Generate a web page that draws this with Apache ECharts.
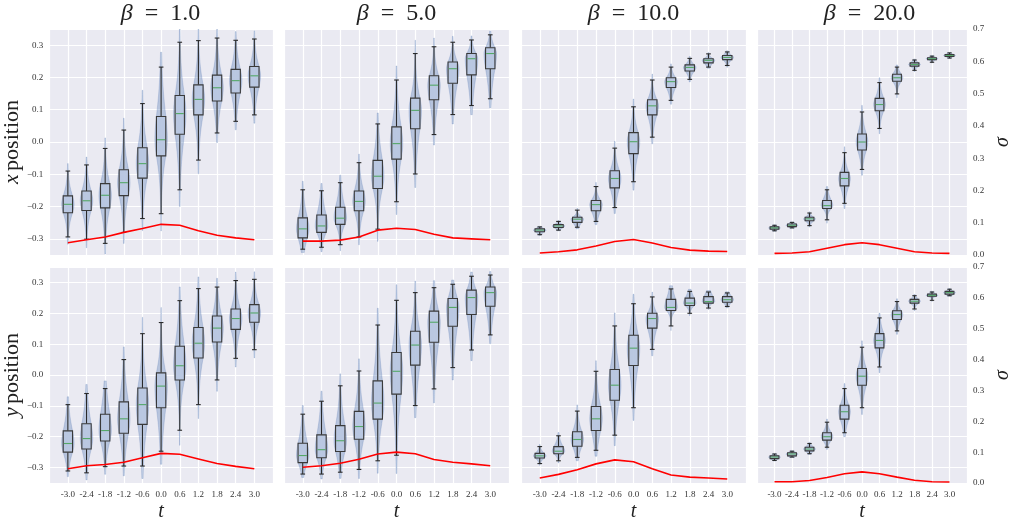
<!DOCTYPE html>
<html><head><meta charset="utf-8">
<script src="https://cdn.jsdelivr.net/npm/echarts@6.0.0/dist/echarts.min.js"></script>
<style>html,body{margin:0;padding:0;background:#fff}#c{width:1014px;height:523px}</style>
</head><body><div id="c"></div>
<script>
// time points (category values)
const tValues = [-3.0, -2.4, -1.8, -1.2, -0.6, 0.0, 0.6, 1.2, 1.8, 2.4, 3.0];
const betaLabels = ['1.0', '5.0', '10.0', '20.0'];
const rowNames = ['x', 'y'];

// box statistics per t: [whisker low, q1, median, q3, whisker high]
const xBeta1 = [[-0.294,-0.219,-0.193,-0.167,-0.090],[-0.301,-0.212,-0.182,-0.152,-0.071],[-0.314,-0.204,-0.165,-0.129,-0.020],[-0.280,-0.166,-0.126,-0.086,0.037],[-0.237,-0.112,-0.067,-0.018,0.119],[-0.222,-0.043,0.007,0.079,0.232],[-0.148,0.024,0.088,0.144,0.309],[-0.056,0.084,0.132,0.177,0.314],[0.028,0.127,0.168,0.207,0.322],[0.064,0.152,0.190,0.225,0.315],[0.084,0.170,0.205,0.234,0.319]];
const xBeta5 = [[-0.332,-0.297,-0.269,-0.235,-0.148],[-0.326,-0.280,-0.260,-0.226,-0.151],[-0.318,-0.255,-0.236,-0.202,-0.126],[-0.294,-0.213,-0.184,-0.152,-0.064],[-0.270,-0.144,-0.106,-0.057,0.056],[-0.185,-0.053,-0.005,0.047,0.192],[-0.099,0.041,0.098,0.136,0.274],[0.023,0.131,0.176,0.205,0.295],[0.085,0.182,0.227,0.248,0.309],[0.113,0.208,0.258,0.274,0.316],[0.134,0.227,0.274,0.292,0.332]];
const xBeta10 = [[-0.287,-0.278,-0.273,-0.269,-0.263],[-0.273,-0.265,-0.260,-0.256,-0.246],[-0.264,-0.249,-0.239,-0.233,-0.211],[-0.246,-0.213,-0.194,-0.181,-0.138],[-0.203,-0.142,-0.113,-0.089,-0.019],[-0.123,-0.036,0.001,0.029,0.109],[0.015,0.084,0.112,0.131,0.192],[0.129,0.169,0.187,0.199,0.232],[0.194,0.220,0.231,0.239,0.259],[0.232,0.245,0.253,0.258,0.273],[0.237,0.255,0.262,0.268,0.279]];
const xBeta20 = [[-0.275,-0.270,-0.266,-0.263,-0.258],[-0.266,-0.262,-0.258,-0.254,-0.249],[-0.259,-0.244,-0.238,-0.233,-0.220],[-0.241,-0.206,-0.197,-0.181,-0.148],[-0.190,-0.136,-0.113,-0.094,-0.033],[-0.085,-0.025,0.000,0.025,0.093],[0.042,0.097,0.116,0.135,0.184],[0.149,0.188,0.199,0.210,0.232],[0.222,0.235,0.240,0.245,0.254],[0.247,0.255,0.258,0.261,0.266],[0.260,0.265,0.268,0.271,0.276]];
const yBeta1 = [[-0.311,-0.250,-0.222,-0.181,-0.096],[-0.317,-0.240,-0.206,-0.158,-0.060],[-0.297,-0.214,-0.180,-0.127,-0.044],[-0.295,-0.189,-0.142,-0.087,0.050],[-0.295,-0.160,-0.096,-0.042,0.134],[-0.247,-0.106,-0.036,0.007,0.170],[-0.179,-0.016,0.030,0.093,0.241],[-0.096,0.055,0.103,0.154,0.280],[-0.016,0.107,0.152,0.191,0.285],[0.054,0.148,0.183,0.214,0.306],[0.082,0.171,0.201,0.228,0.310]];
const yBeta5 = [[-0.321,-0.284,-0.261,-0.221,-0.127],[-0.321,-0.268,-0.242,-0.194,-0.085],[-0.315,-0.248,-0.213,-0.164,-0.035],[-0.306,-0.208,-0.167,-0.118,0.013],[-0.278,-0.143,-0.091,-0.019,0.162],[-0.260,-0.062,0.012,0.073,0.242],[-0.099,0.032,0.097,0.142,0.267],[-0.045,0.106,0.171,0.207,0.283],[0.024,0.158,0.219,0.248,0.294],[0.081,0.196,0.251,0.275,0.320],[0.130,0.223,0.267,0.285,0.324]];
const yBeta10 = [[-0.287,-0.269,-0.262,-0.254,-0.232],[-0.278,-0.255,-0.247,-0.232,-0.197],[-0.267,-0.231,-0.209,-0.184,-0.117],[-0.244,-0.180,-0.142,-0.102,0.012],[-0.195,-0.082,-0.033,0.018,0.159],[-0.106,0.031,0.087,0.129,0.231],[0.083,0.152,0.183,0.200,0.253],[0.159,0.209,0.219,0.245,0.279],[0.200,0.225,0.233,0.249,0.271],[0.217,0.233,0.238,0.254,0.269],[0.222,0.236,0.244,0.254,0.266]];
const yBeta20 = [[-0.277,-0.271,-0.266,-0.262,-0.256],[-0.266,-0.262,-0.256,-0.252,-0.247],[-0.255,-0.246,-0.240,-0.234,-0.222],[-0.234,-0.211,-0.200,-0.187,-0.153],[-0.187,-0.143,-0.119,-0.098,-0.044],[-0.106,-0.033,-0.004,0.021,0.090],[0.026,0.088,0.112,0.134,0.185],[0.143,0.180,0.196,0.208,0.238],[0.214,0.233,0.239,0.245,0.257],[0.242,0.255,0.258,0.262,0.269],[0.257,0.262,0.267,0.271,0.278]];

// sigma (right axis) per t
const sigmaX1 = [0.038,0.047,0.056,0.070,0.082,0.095,0.092,0.075,0.061,0.053,0.047];
const sigmaX5 = [0.043,0.043,0.046,0.056,0.077,0.083,0.079,0.064,0.053,0.050,0.047];
const sigmaX10 = [0.006,0.010,0.016,0.028,0.042,0.048,0.037,0.023,0.015,0.012,0.011];
const sigmaX20 = [0.005,0.006,0.010,0.021,0.032,0.038,0.032,0.021,0.010,0.006,0.005];
const sigmaY1 = [0.046,0.056,0.060,0.067,0.082,0.096,0.093,0.078,0.063,0.054,0.046];
const sigmaY5 = [0.051,0.056,0.064,0.077,0.094,0.100,0.095,0.076,0.067,0.062,0.056];
const sigmaY10 = [0.016,0.028,0.043,0.062,0.075,0.069,0.046,0.026,0.019,0.016,0.013];
const sigmaY20 = [0.004,0.004,0.008,0.018,0.030,0.036,0.030,0.019,0.009,0.004,0.003];

const statsGrid = [[xBeta1, xBeta5, xBeta10, xBeta20], [yBeta1, yBeta5, yBeta10, yBeta20]];
const sigmaGrid = [[sigmaX1, sigmaX5, sigmaX10, sigmaX20], [sigmaY1, sigmaY5, sigmaY10, sigmaY20]];

const FONT = 'Liberation Serif';
const colLeft = [48, 284, 521, 757];
const rowTop = [29, 267];
const W = 225, H = 226;

function fmtY(v) {
  const r = Math.round(v * 100) / 100;
  if (Math.abs(r) > 0.34) return '';
  const a = Math.abs(Math.round(r * 10) / 10);
  return (r < -0.001 ? '\u2212' : '') + a.toFixed(1);
}
function fmtX(v) {
  const r = Math.round(v * 10) / 10;
  if (Math.abs(r) > 3.3) return '';
  return (r === 0 ? 0 : r).toFixed(1);
}

function renderBox(params, api) {
  const x = api.value(0);
  const lo = api.value(1), q1 = api.value(2), md = api.value(3), q3 = api.value(4), hi = api.value(5);
  const unit = api.size([1, 0])[0];
  const cx = api.coord([x, md])[0];
  const yOf = v => api.coord([x, v])[1];
  const boxHalf = 0.15 * unit;
  const capHalf = boxHalf / 2;
  const violHalf = 0.2 * unit;
  // violin outline built from the box statistics
  const sU = Math.max((q3 - md) / 0.6745, 0.002);
  const sL = Math.max((md - q1) / 0.6745, 0.002);
  const top = hi + 0.3 * (hi - q3);
  const bot = lo - 0.3 * (q1 - lo);
  const n = 60, right = [], left = [];
  for (let k = 0; k <= n; k++) {
    const v = bot + (top - bot) * k / n;
    const z = v >= md ? (v - md) / sU : (md - v) / sL;
    const w = violHalf * Math.pow(1 + z * z / 3, -2);
    const py = yOf(v);
    right.push([cx + w, py]);
    left.unshift([cx - w, py]);
  }
  const yLo = yOf(lo), yQ1 = yOf(q1), yMd = yOf(md), yQ3 = yOf(q3), yHi = yOf(hi);
  const lineStyle = { stroke: '#2a2a2a', lineWidth: 1.1 };
  return {
    type: 'group',
    children: [
      { type: 'polygon', shape: { points: right.concat(left), smooth: 0 },
        style: { fill: 'rgba(76,114,176,0.32)', stroke: 'rgba(76,114,176,0.38)', lineWidth: 0.6 } },
      { type: 'line', shape: { x1: cx, y1: yQ1, x2: cx, y2: yLo }, style: lineStyle },
      { type: 'line', shape: { x1: cx, y1: yQ3, x2: cx, y2: yHi }, style: lineStyle },
      { type: 'line', shape: { x1: cx - capHalf, y1: yLo, x2: cx + capHalf, y2: yLo }, style: lineStyle },
      { type: 'line', shape: { x1: cx - capHalf, y1: yHi, x2: cx + capHalf, y2: yHi }, style: lineStyle },
      { type: 'rect', shape: { x: cx - boxHalf, y: yQ3, width: 2 * boxHalf, height: yQ1 - yQ3 },
        style: { fill: 'rgba(185,199,225,0.92)', stroke: '#3a3a3a', lineWidth: 1.1 } },
      { type: 'line', shape: { x1: cx - boxHalf + 0.6, y1: yMd, x2: cx + boxHalf - 0.6, y2: yMd },
        style: { stroke: '#55a868', lineWidth: 1.1 } }
    ]
  };
}

const grids = [], xAxes = [], yAxes = [], series = [], titles = [];
for (let r = 0; r < 2; r++) {
  for (let c = 0; c < 4; c++) {
    const gi = r * 4 + c;
    grids.push({ left: colLeft[c], top: rowTop[r], width: W, height: H, show: true,
      backgroundColor: '#EAEAF2', borderWidth: 0, containLabel: false });
    xAxes.push({
      type: 'value', gridIndex: gi, min: -3.6, max: 3.6, interval: 0.6,
      axisLine: { show: false }, axisTick: { show: false },
      splitLine: { show: true, lineStyle: { color: '#ffffff', width: 1.2 } },
      axisLabel: { show: r === 1, formatter: fmtX, fontFamily: FONT, fontSize: 9, color: '#333', margin: 7 },
      name: r === 1 ? '{i|t}' : '', nameLocation: 'middle', nameGap: 19,
      nameTextStyle: { rich: { i: { fontFamily: FONT, fontStyle: 'italic', fontSize: 20, color: '#222' } } }
    });
    yAxes.push({
      type: 'value', gridIndex: gi, min: -0.35, max: 0.35, splitNumber: 7,
      axisLine: { show: false }, axisTick: { show: false },
      splitLine: { show: true, lineStyle: { color: '#ffffff', width: 1.2 } },
      axisLabel: { show: c === 0, formatter: fmtY, fontFamily: FONT, fontSize: 9, color: '#333', margin: 6 },
      name: c === 0 ? '{i|' + rowNames[r] + '} {n|position}' : '', nameLocation: 'middle', nameGap: 26,
      nameTextStyle: { rich: {
        i: { fontFamily: FONT, fontStyle: 'italic', fontSize: 22, color: '#222' },
        n: { fontFamily: FONT, fontSize: 22, color: '#222' } } }
    });
    yAxes.push({
      type: 'value', gridIndex: gi, min: 0, max: 0.7, interval: 0.1, position: 'right',
      axisLine: { show: false }, axisTick: { show: false }, splitLine: { show: false },
      axisLabel: { show: c === 3, formatter: v => v.toFixed(1), fontFamily: FONT, fontSize: 9, color: '#333', margin: 6 },
      name: c === 3 ? '{i|\u03c3}' : '', nameLocation: 'middle', nameGap: 26,
      nameTextStyle: { rich: { i: { fontFamily: FONT, fontStyle: 'italic', fontSize: 20, color: '#222' } } }
    });
    const stats = statsGrid[r][c];
    series.push({
      type: 'custom', xAxisIndex: gi, yAxisIndex: 2 * gi, clip: true,
      renderItem: renderBox,
      encode: { x: 0, y: [1, 2, 3, 4, 5] },
      data: tValues.map((t, j) => [t].concat(stats[j])),
      z: 2, silent: true
    });
    series.push({
      type: 'line', xAxisIndex: gi, yAxisIndex: 2 * gi + 1,
      data: tValues.map((t, j) => [t, sigmaGrid[r][c][j]]),
      showSymbol: false, symbol: 'none',
      lineStyle: { color: '#ff0000', width: 1.6 }, z: 5, silent: true
    });
  }
}
for (let c = 0; c < 4; c++) {
  titles.push({
    text: '{i|\u03b2}\u2002=\u2002' + betaLabels[c],
    left: colLeft[c] + W / 2, top: 2, textAlign: 'center', padding: 0,
    textStyle: { fontFamily: FONT, fontSize: 24, fontWeight: 'normal', color: '#222',
      rich: { i: { fontFamily: FONT, fontStyle: 'italic', fontSize: 24, color: '#222' } } }
  });
}

const chart = echarts.init(document.getElementById('c'), null, { renderer: 'canvas' });
chart.setOption({
  animation: false,
  backgroundColor: '#ffffff',
  title: titles,
  grid: grids,
  xAxis: xAxes,
  yAxis: yAxes,
  series: series
});
</script>
</body></html>
